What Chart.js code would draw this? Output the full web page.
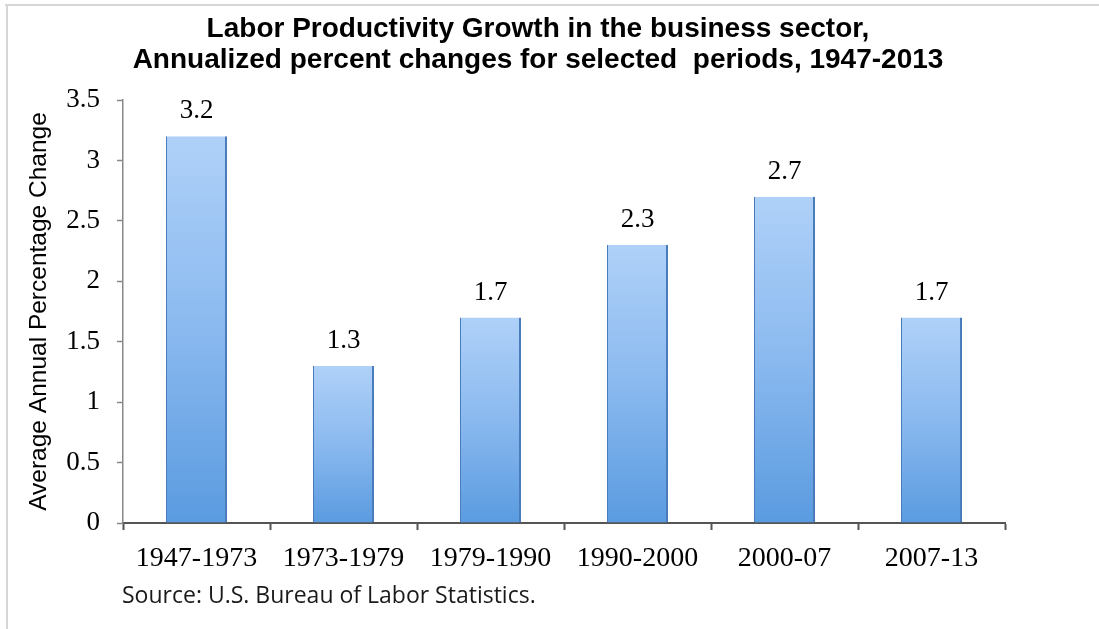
<!DOCTYPE html>
<html>
<head>
<meta charset="utf-8">
<title>Labor Productivity Growth</title>
<script src="https://cdn.jsdelivr.net/npm/chart.js@4.4.1/dist/chart.umd.min.js"></script>
<style>
    html, body { margin: 0; padding: 0; background: #ffffff; }
    #wrap { position: relative; width: 1099px; height: 629px; }
</style>
</head>
<body>
<div id="wrap"><canvas id="myChart" width="1099" height="629"></canvas></div>
<script>
var periods = ['1947-1973', '1973-1979', '1979-1990', '1990-2000', '2000-07', '2007-13'];
var growth = [3.2, 1.3, 1.7, 2.3, 2.7, 1.7];
var yTicks = [0, 0.5, 1, 1.5, 2, 2.5, 3, 3.5];
var titleLines = ['Labor Productivity Growth in the business sector,',
                  'Annualized percent changes for selected  periods, 1947-2013'];
var yTitle = 'Average Annual Percentage Change';
var sourceNote = 'Source: U.S. Bureau of Labor Statistics.';

var serif = '"Liberation Serif", "DejaVu Serif", serif';

// frame, title, value labels, source line
var decorPlugin = {
    id: 'decor',
    beforeDraw: function (chart) {
        var ctx = chart.ctx;
        ctx.save();
        ctx.fillStyle = '#ffffff';
        ctx.fillRect(0, 0, chart.width, chart.height);
        ctx.fillStyle = '#d6d6d6';
        ctx.fillRect(5, 4, chart.width - 5, 2);
        ctx.fillRect(6, 4, 2, chart.height - 4);
        ctx.restore();
    },
    afterDraw: function (chart) {
        var ctx = chart.ctx;
        var area = chart.chartArea;
        ctx.save();
        ctx.fillStyle = '#000000';
        ctx.textAlign = 'center';
        ctx.textBaseline = 'alphabetic';
        ctx.font = 'bold 28px "Liberation Sans", Arial, sans-serif';
        ctx.fillText(titleLines[0], 538, 37);
        ctx.fillText(titleLines[1], 538, 68);

        ctx.font = '27px ' + serif;
        var meta = chart.getDatasetMeta(0);
        meta.data.forEach(function (bar, i) {
            ctx.fillText(String(growth[i]), bar.x, bar.y - 18);
        });

        ctx.textAlign = 'left';
        ctx.fillStyle = '#1a1a1a';
        ctx.font = '23px "Open Sans", Lato, sans-serif';
        ctx.fillText(sourceNote, area.left - 1, 603);
        ctx.restore();
    }
};

function barFill(context) {
    var chart = context.chart;
    var yScale = chart.scales.y;
    if (!chart.chartArea || !yScale || context.raw === undefined) {
        return '#7fb1ea';
    }
    var top = yScale.getPixelForValue(context.raw);
    var bottom = yScale.getPixelForValue(0);
    var g = chart.ctx.createLinearGradient(0, top, 0, bottom);
    g.addColorStop(0, '#afd1f8');
    g.addColorStop(0.5, '#8ab9ef');
    g.addColorStop(1, '#5a9be0');
    return g;
}

var ctx = document.getElementById('myChart').getContext('2d');
var myChart = new Chart(ctx, {
    type: 'bar',
    data: {
        labels: periods,
        datasets: [{
            label: 'Labor productivity growth',
            data: growth,
            backgroundColor: barFill,
            borderColor: '#4a7cbb',
            borderWidth: { left: 1, right: 2, top: 0, bottom: 0 },
            borderSkipped: false,
            barPercentage: 0.415,
            categoryPercentage: 1
        }]
    },
    options: {
        responsive: false,
        animation: false,
        layout: {
            padding: { top: 100, right: 94, left: 0, bottom: 0 }
        },
        plugins: {
            legend: { display: false },
            title: { display: false },
            tooltip: { enabled: false }
        },
        scales: {
            x: {
                afterFit: function (scale) { scale.height = 106; },
                grid: {
                    display: true,
                    drawOnChartArea: false,
                    drawTicks: true,
                    tickLength: 7,
                    tickWidth: 2,
                    tickColor: '#555555',
                    offset: true
                },
                border: { display: true, color: '#555555', width: 2 },
                ticks: {
                    color: '#000000',
                    padding: 12,
                    font: { family: serif, size: 28 }
                }
            },
            y: {
                min: 0,
                max: 3.5,
                afterFit: function (scale) { scale.width = 123; },
                afterBuildTicks: function (scale) {
                    scale.ticks = yTicks.map(function (v) { return { value: v }; });
                },
                grid: {
                    display: true,
                    drawOnChartArea: false,
                    drawTicks: true,
                    tickLength: 6,
                    tickWidth: 1.5,
                    tickColor: '#888888'
                },
                border: { display: true, color: '#888888', width: 1.5 },
                ticks: {
                    color: '#000000',
                    padding: 17,
                    font: { family: serif, size: 27 },
                    callback: function (v) { return String(v); }
                },
                title: {
                    display: true,
                    text: yTitle,
                    color: '#000000',
                    padding: { top: 25, bottom: 0 },
                    font: { family: '"Liberation Sans", Arial, sans-serif', size: 24.5 }
                }
            }
        }
    },
    plugins: [decorPlugin]
});
</script>
</body>
</html>
